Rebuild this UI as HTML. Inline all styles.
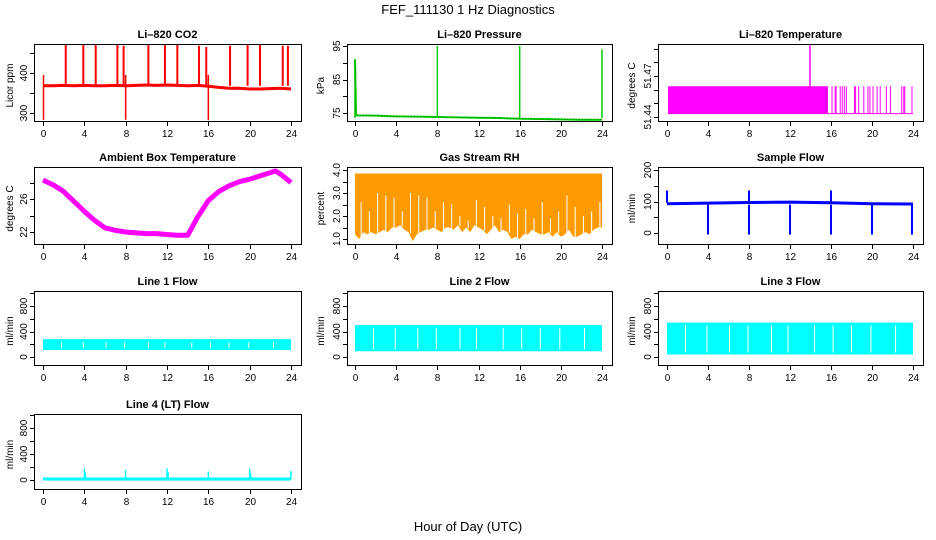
<!DOCTYPE html>
<html><head><meta charset="utf-8"><style>
html,body{margin:0;padding:0;background:#fff;}
svg{display:block;font-family:"Liberation Sans",sans-serif;}
</style></head><body>
<svg id="c" width="936" height="540" viewBox="0 0 936 540">
<text x="468" y="14" text-anchor="middle" font-size="13">FEF_111130  1 Hz Diagnostics</text>
<text x="468" y="531" text-anchor="middle" font-size="13">Hour of Day (UTC)</text>
</svg>
<script>
// ---- data ----
const hourTicks = [0,4,8,12,16,20,24];
const co2Hours = [0,1,2,3,4,5,6,7,8,9,10,11,12,13,14,15,16,17,18,19,20,21,22,23,24];
const co2Base = [368,368,369,368,369,368,368,369,368,369,370,369,370,369,368,369,367,364,362,362,360,360,361,362,360];
const co2SpikeHours = [2.2,3.9,5.1,7.2,7.8,10.2,11.8,13.0,15.1,15.8,18.1,19.8,21.0,23.2,23.7];
const co2SpikeVals = [470,470,470,470,468,470,470,470,468,465,468,470,470,468,468];
const co2DipHours = [0.05,8.0,16.0];
const co2DipVals = [283,283,282];
const presHours = [0,0.1,2,4,6,8,10,12,14,16,18,20,22,24];
const presVals = [91,74.3,74.2,74.0,73.9,73.8,73.7,73.6,73.5,73.3,73.2,73.1,73.0,73.0];
const presSpikeHours = [0,8,16,24];
const presSpikeVals = [91,95,95,94];
const ltDenseStart = 0.1, ltDenseEnd = 15.7;
const ltSparseHours = [16.1,16.4,16.5,16.9,17.1,17.3,17.5,18.3,18.4,18.7,19.2,19.6,19.8,20.1,20.5,20.8,21.4,21.8,22.9,23.1,23.2,23.9];
const ltLow = 51.4425, ltHigh = 51.4625, ltSpikeHour = 13.95, ltSpikeVal = 51.4925;
const ambHours = [0,1,2,3,4,5,6,7,8,9,10,11,12,13,14,15,16,17,18,19,20,21,22,22.5,23,24];
const ambVals = [28.3,27.7,26.9,25.7,24.5,23.4,22.5,22.2,22.0,21.9,21.8,21.8,21.7,21.6,21.6,23.9,25.8,26.9,27.6,28.1,28.4,28.8,29.2,29.4,29.0,28.0];
const rhHours = [0,0.4,0.8,1.2,1.6,2,2.4,2.8,3.2,3.6,4,4.4,4.8,5.2,5.6,6,6.4,6.8,7.2,7.6,8,8.4,8.8,9.2,9.6,10,10.4,10.8,11.2,11.6,12,12.4,12.8,13.2,13.6,14,14.4,14.8,15.2,15.6,16,16.4,16.8,17.2,17.6,18,18.4,18.8,19.2,19.6,20,20.4,20.8,21.2,21.6,22,22.4,22.8,23.2,23.6,24];
const rhLow = [1.2,1.0,1.3,1.2,1.3,1.2,1.3,1.4,1.3,1.5,1.5,1.6,1.4,1.3,0.9,1.2,1.3,1.4,1.4,1.5,1.4,1.3,1.5,1.5,1.4,1.6,1.3,1.5,1.3,1.6,1.5,1.4,1.2,1.4,1.6,1.3,1.4,1.3,1.0,1.1,1.0,1.2,1.2,1.4,1.3,1.2,1.2,1.3,1.1,1.3,1.1,1.2,1.4,1.1,1.1,1.2,1.3,1.2,1.4,1.5,1.5];
const rhGapTop = [2.6,2.2,3.0,2.9,2.8,2.2,3.0,2.9,2.8,2.2,2.6,2.5,2.0,1.8,2.7,2.4,2.0,1.9,2.5,2.1,2.3,1.9,2.6,1.9,2.2,2.9,2.4,2.0,2.2,2.6];
const rhHigh = 3.85;
const sfHours = [0,4,8,12,16,20,24];
const sfBase = [93,95,97,98,96,93,92];
const sfDipHours = [4,8,12,16,20,23.9];
const sfSpikeHours = [0,8,16];
const sfSpikeVal = 135;
const flowGapHours = [1.8,3.9,6.1,7.9,10.2,11.8,14.4,16.2,18.0,19.9,22.3];
const l1Low = 110, l1High = 280;
const l2Low = 90, l2High = 500;
const l3Low = 40, l3High = 540;
const l4Base = 15;
const l4SpikeHours = [4,4.1,8,12,12.1,16,20,20.1,24];
const l4SpikeVals = [170,120,150,180,120,130,170,110,140];
// ---- layout ----
const svg = document.getElementById('c');
const NS = 'http://www.w3.org/2000/svg';
function el(tag, attrs, parent){const e=document.createElementNS(NS,tag);for(const k in attrs)e.setAttribute(k,attrs[k]);(parent||svg).appendChild(e);return e;}
const cols=[{l:34,r:301,h0:43,h24:291,yl:10},{l:347,r:612,h0:355,h24:602,yl:321},{l:658,r:923,h0:667,h24:913,yl:632}];
const rows=[{t:44,b:121},{t:167,b:244},{t:291,b:365},{t:414,b:489}];
function panel(name,title,ylab,c,r,ya,yb,ticks,labels,fmt){
  const C=cols[c],R=rows[r];
  const g=el('g',{});
  
  
  const X=h=>C.h0+(C.h24-C.h0)*h/24;
  const Y=v=>ya[1]+(yb[1]-ya[1])*(v-ya[0])/(yb[0]-ya[0]);
  const t=el('text',{x:(C.l+C.r)/2,y:R.t-6,'text-anchor':'middle','font-size':'11','font-weight':'bold'},g);t.textContent=title;
  
  
  const yt=el('text',{x:C.yl,y:(R.t+R.b)/2,'text-anchor':'middle','font-size':'10',transform:`rotate(-90 ${C.yl+3} ${(R.t+R.b)/2})`},g);yt.textContent=ylab;
  
  
  const plot=el('g',{},g);
  
  
  const ax=el('g',{stroke:'#000','stroke-width':'1'},g);
  
  
  el('rect',{x:C.l+0.5,y:R.t+0.5,width:C.r-C.l,height:R.b-R.t,fill:'none'},ax);
  hourTicks.forEach(h=>{const x=Math.round(X(h))+0.5;el('line',{x1:x,x2:x,y1:R.b,y2:R.b+5},ax);
    const tx=el('text',{x:x,y:R.b+16,'text-anchor':'middle','font-size':'10',stroke:'none'},ax);tx.textContent=h;});
  ticks.forEach(v=>{const y=Math.round(Y(v))+0.5;el('line',{x1:C.l-4,x2:C.l,y1:y,y2:y},ax);});
  labels.forEach(v=>{const y=Y(v);const x=C.l-7;
    const tx=el('text',{x:x,y:y,'text-anchor':'middle','font-size':'10',stroke:'none',transform:`rotate(-90 ${x} ${y})`},ax);tx.textContent=fmt?fmt(v):v;});
  return {X,Y,plot};
}
function vline(p,x,y1,y2,col,w){el('line',{x1:x,x2:x,y1:y1,y2:y2,stroke:col,'stroke-width':w||1},p);}
// CO2
(function(){const P=panel('co2','Li–820 CO2','Licor ppm',0,0,[300,113],[400,73],[300,350,400,450],[300,400]);
  let d='';co2Hours.forEach((h,i)=>{d+=(i?'L':'M')+P.X(h)+' '+P.Y(co2Base[i]);});
  el('path',{d:d,fill:'none',stroke:'#ff0000','stroke-width':3},P.plot);
  co2SpikeHours.forEach((h,i)=>vline(P.plot,P.X(h),P.Y(368),P.Y(co2SpikeVals[i]),'#ff0000',2));
  co2DipHours.forEach((h,i)=>vline(P.plot,P.X(h),P.Y(395),P.Y(co2DipVals[i]),'#ff0000',1.5));
})();
// Pressure
(function(){const P=panel('pressure','Li–820 Pressure','kPa',1,0,[75,113],[95,46],[75,80,85,90,95],[75,85,95]);
  let d='';presHours.forEach((h,i)=>{d+=(i?'L':'M')+P.X(h)+' '+P.Y(presVals[i]);});
  el('path',{d:d,fill:'none',stroke:'#00cc00','stroke-width':2},P.plot);
  presSpikeHours.forEach((h,i)=>{vline(P.plot,P.X(h),P.Y(73.5),P.Y(presSpikeVals[i]),'#00cc00',1.5);});
  el('path',{d:d,fill:'none',stroke:'#005500','stroke-width':0.6,'stroke-dasharray':'1 2'},P.plot);
})();
// Li temp
(function(){const P=panel('li820-temperature','Li–820 Temperature','degrees C',2,0,[51.44,117],[51.47,76],[51.44,51.45,51.46,51.47,51.48,51.49],[51.44,51.47]);
  el('rect',{x:P.X(ltDenseStart),y:P.Y(ltHigh),width:P.X(ltDenseEnd)-P.X(ltDenseStart),height:P.Y(ltLow)-P.Y(ltHigh),fill:'#ff00ff'},P.plot);
  vline(P.plot,P.X(ltSpikeHour),P.Y(ltHigh),P.Y(ltSpikeVal),'#ff00ff',1.5);
  el('line',{x1:P.X(ltDenseStart),x2:P.X(24),y1:P.Y(ltLow),y2:P.Y(ltLow),stroke:'#ff00ff'},P.plot);
  ltSparseHours.forEach(h=>vline(P.plot,P.X(h),P.Y(ltLow),P.Y(ltHigh),'#ff00ff',1));
})();
// Ambient
(function(){const P=panel('ambient-temperature','Ambient Box Temperature','degrees C',0,1,[22,232],[26,199],[22,24,26,28],[22,26]);
  let d='';ambHours.forEach((h,i)=>{d+=(i?'L':'M')+P.X(h)+' '+P.Y(ambVals[i]);});
  el('path',{d:d,fill:'none',stroke:'#ff00ff','stroke-width':5,'stroke-linejoin':'round'},P.plot);
})();
// RH
(function(){const P=panel('gas-stream-rh','Gas Stream RH','percent',1,1,[1,239],[4,170],[1,1.5,2,2.5,3,3.5,4],[1,2,3,4],v=>v.toFixed(1));
  let d='M'+P.X(0)+' '+P.Y(rhHigh)+'L'+P.X(24)+' '+P.Y(rhHigh);
  for(let i=rhHours.length-1;i>=0;i--){d+='L'+P.X(rhHours[i])+' '+P.Y(rhLow[i]);}
  el('path',{d:d+'Z',fill:'#ff9a00'},P.plot);
  rhHours.forEach((h,i)=>{if(i<rhGapTop.length*2&&i%2==1)vline(P.plot,P.X(h)+2,P.Y(rhGapTop[(i-1)/2]),P.Y(rhLow[i])+1,'#ffffff',1);});
})();
// Sample flow
(function(){const P=panel('sample-flow','Sample Flow','ml/min',2,1,[0,233],[200,170],[0,50,100,150,200],[0,100,200]);
  let d='';sfHours.forEach((h,i)=>{d+=(i?'L':'M')+P.X(h)+' '+P.Y(sfBase[i]);});
  el('path',{d:d,fill:'none',stroke:'#0000ff','stroke-width':3},P.plot);
  sfDipHours.forEach(h=>vline(P.plot,P.X(h),P.Y(90),P.Y(-5),'#0000ff',2));
  sfSpikeHours.forEach(h=>vline(P.plot,P.X(h),P.Y(95),P.Y(sfSpikeVal),'#0000ff',2));
})();
// line flows
function flowPanel(name,title,c,r,lo,hi){const R=rows[r];const z=R.b-8;
  const P=panel(name,title,'ml/min',c,r,[0,z],[800,z-51],[0,200,400,600,800,1000],[0,400,800]);
  el('rect',{x:P.X(0),y:P.Y(hi),width:P.X(24)-P.X(0),height:P.Y(lo)-P.Y(hi),fill:'#00ffff'},P.plot);
  flowGapHours.forEach(h=>vline(P.plot,P.X(h),P.Y(hi)+3,P.Y(lo)-2,'#ffffff',1));
  return P;}
flowPanel('line1-flow','Line 1 Flow',0,2,l1Low,l1High);
flowPanel('line2-flow','Line 2 Flow',1,2,l2Low,l2High);
flowPanel('line3-flow','Line 3 Flow',2,2,l3Low,l3High);
(function(){const P=panel('line4-flow','Line 4 (LT) Flow','ml/min',0,3,[0,480],[800,428],[0,200,400,600,800,1000],[0,400,800]);
  el('line',{x1:P.X(0),x2:P.X(24),y1:P.Y(l4Base),y2:P.Y(l4Base),stroke:'#00ffff','stroke-width':3},P.plot);
  l4SpikeHours.forEach((h,i)=>vline(P.plot,P.X(h),P.Y(l4Base),P.Y(l4SpikeVals[i]),'#00ffff',1.5));
})();
</script>
</body></html>
